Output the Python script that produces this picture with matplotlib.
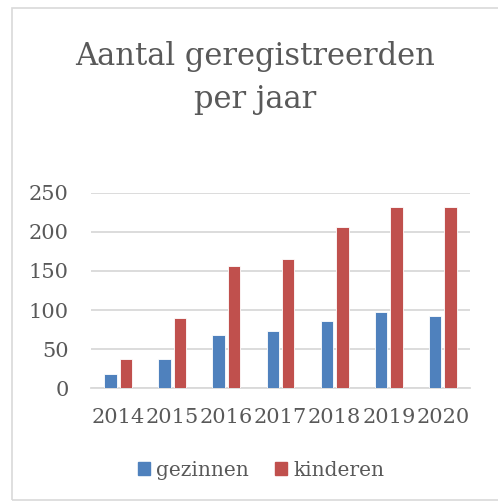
import numpy as np
import matplotlib
matplotlib.use("Agg")
import matplotlib.pyplot as plt
from matplotlib.patches import Rectangle, Patch

# data
jaren = ["2014", "2015", "2016", "2017", "2018", "2019", "2020"]
gezinnen = [18, 37, 68, 73, 86, 98, 93]
kinderen = [37, 90, 156, 165, 206, 232, 232]

blauw = "#4F81BD"
rood = "#C0504D"
tekst = "#595959"
grijs = "#D9D9D9"

plt.rcParams["font.family"] = ["DejaVu Serif"]

W, H = 498, 503
fig = plt.figure(figsize=(W / 100, H / 100), dpi=100)

# rand om de grafiek
fig.patches.append(Rectangle((12 / W, 3 / H), 1.2, 1 - 11 / H, transform=fig.transFigure,
                             fill=False, edgecolor=grijs, linewidth=1.2))

ax = fig.add_axes([91 / W, (H - 388.3) / H, (470 - 91) / W, (388.3 - 192.7) / H])

x = np.arange(len(jaren))
bw = 0.23
ax.bar(x - 0.142, gezinnen, bw, color=blauw, edgecolor="white", linewidth=0.6, label="gezinnen", zorder=3)
ax.bar(x + 0.142, kinderen, bw, color=rood, edgecolor="white", linewidth=0.6, label="kinderen", zorder=3)

ax.set_xlim(-0.5, len(jaren) - 0.5)
ax.set_ylim(0, 250)
ax.set_yticks(range(0, 251, 50))
ax.set_xticks(x)
ax.set_xticklabels(jaren)
ax.yaxis.grid(True, color=grijs, linewidth=1.3, zorder=0)
for s in ["top", "left", "right"]:
    ax.spines[s].set_visible(False)
ax.spines["bottom"].set_color(grijs)
ax.spines["bottom"].set_linewidth(1.3)
ax.tick_params(length=0, labelsize=15, colors=tekst)
ax.tick_params(axis="x", pad=14)
ax.tick_params(axis="y", pad=16)

fig.text(255 / W, 1 - 65 / H, "Aantal geregistreerden", ha="center", va="baseline",
         fontsize=22, color=tekst)
fig.text(255 / W, 1 - 108 / H, "per jaar", ha="center", va="baseline",
         fontsize=22, color=tekst)

handles = [Patch(color=blauw), Patch(color=rood)]
fig.legend(handles, ["gezinnen", "kinderen"], loc="center", bbox_to_anchor=(261 / W, 1 - 470 / H),
           ncol=2, frameon=False, fontsize=14.5, labelcolor=tekst, handlelength=0.6,
           handleheight=0.6, handletextpad=0.3, columnspacing=1.3)

fig.savefig("out.png", dpi=100)
